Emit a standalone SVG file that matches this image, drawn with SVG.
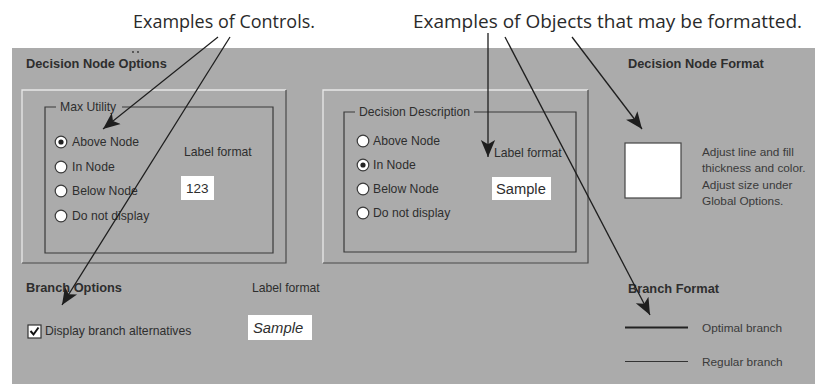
<svg xmlns="http://www.w3.org/2000/svg" width="815" height="384" viewBox="0 0 815 384">
<style>
.cap{font-family:"Open Sans","Noto Sans",sans-serif;font-size:18.5px;fill:#2a2a2a}
.hd{font-family:"Liberation Sans",Arial,sans-serif;font-size:12.8px;font-weight:bold;fill:#2e2e2e}
.t{font-family:"Liberation Sans",Arial,sans-serif;font-size:12.2px;fill:#2e2e2e}
.s{font-family:"Liberation Sans",Arial,sans-serif;font-size:11.8px;fill:#3a3a3a}
.rad{fill:#fff;stroke:#3a3a3a;stroke-width:1.2}
.grp{fill:none;stroke:#3a3a3a;stroke-width:1.2}
.wb{fill:#fff}
.ln{stroke:#1e1e1e;stroke-width:1.3;fill:none}
</style>
<defs>
<marker id="ah2" viewBox="0 0 10 10" refX="10" refY="5" markerWidth="17" markerHeight="17" markerUnits="userSpaceOnUse" orient="auto">
<path d="M0,0.8 L10,5 L0,9.2 L2.5,5 Z" fill="#1e1e1e"/>
</marker>
</defs>
<rect x="0" y="0" width="815" height="384" fill="#fff"/>
<rect x="12" y="48" width="803" height="336" fill="#ababab"/>
<circle cx="133" cy="52" r="0.9" fill="#333"/>
<circle cx="138" cy="52" r="0.9" fill="#333"/>
<g id="captions">
<text class="cap" x="133" y="28" textLength="182" lengthAdjust="spacingAndGlyphs">Examples of Controls.</text>
<text class="cap" x="413" y="28" textLength="389" lengthAdjust="spacingAndGlyphs">Examples of Objects that may be formatted.</text>
</g>
<g id="decision-node-options">
<text class="hd" x="26" y="68">Decision Node Options</text>
<path d="M22,263 V90 H286" stroke="#e8e8e8" stroke-width="1.3" fill="none"/>
<path d="M22,263 H286 V90" stroke="#4a4a4a" stroke-width="1.2" fill="none"/>
<path d="M56,107 H45 V253 H273 V107 H122" class="grp"/>
<text class="t" x="60" y="111">Max Utility</text>
<circle class="rad" cx="61" cy="142" r="5.8"/><circle cx="61" cy="142" r="2.6" fill="#222"/>
<text class="t" x="72" y="146">Above Node</text>
<circle class="rad" cx="61" cy="167" r="5.8"/>
<text class="t" x="72" y="171">In Node</text>
<circle class="rad" cx="61" cy="191" r="5.8"/>
<text class="t" x="72" y="195">Below Node</text>
<circle class="rad" cx="61" cy="216" r="5.8"/>
<text class="t" x="72" y="220">Do not display</text>
<text class="t" x="184" y="156">Label format</text>
<rect class="wb" x="181" y="176" width="33" height="24"/>
<text class="t" x="186" y="193" style="font-size:13.5px">123</text>
</g>
<g id="decision-description">
<path d="M323,263 V90 H588" stroke="#e8e8e8" stroke-width="1.3" fill="none"/>
<path d="M323,263 H588 V90" stroke="#4a4a4a" stroke-width="1.2" fill="none"/>
<path d="M355,112 H344 V252 H576 V112 H474" class="grp"/>
<text class="t" x="359" y="116">Decision Description</text>
<circle class="rad" cx="363" cy="141" r="5.8"/>
<text class="t" x="373" y="145">Above Node</text>
<circle class="rad" cx="363" cy="165" r="5.8"/><circle cx="363" cy="165" r="2.6" fill="#222"/>
<text class="t" x="373" y="169">In Node</text>
<circle class="rad" cx="363" cy="189" r="5.8"/>
<text class="t" x="373" y="193">Below Node</text>
<circle class="rad" cx="363" cy="213" r="5.8"/>
<text class="t" x="373" y="217">Do not display</text>
<text class="t" x="494" y="157">Label format</text>
<rect class="wb" x="492" y="177" width="59" height="23"/>
<text class="t" x="496" y="194" style="font-size:14.7px">Sample</text>
</g>
<g id="decision-node-format">
<text class="hd" x="628" y="68">Decision Node Format</text>
<rect x="625" y="143" width="56" height="55" fill="#fff" stroke="#444" stroke-width="1.2"/>
<text class="s" x="702" y="156">Adjust line and fill</text>
<text class="s" x="702" y="172">thickness and color.</text>
<text class="s" x="702" y="189">Adjust size under</text>
<text class="s" x="702" y="205">Global Options.</text>
</g>
<g id="branch-options">
<text class="hd" x="26" y="292">Branch Options</text>
<text class="t" x="252" y="292">Label format</text>
<rect x="28" y="325" width="13" height="13" fill="#fff" stroke="#333" stroke-width="1.2"/>
<path d="M30.5,331 L33.5,334.5 L38.5,327.5" stroke="#111" stroke-width="2" fill="none"/>
<text class="t" x="45" y="335">Display branch alternatives</text>
<rect class="wb" x="248" y="315" width="64" height="25"/>
<text class="t" x="253" y="333" style="font-size:14.8px;font-style:italic">Sample</text>
</g>
<g id="branch-format">
<text class="hd" x="628" y="293">Branch Format</text>
<line x1="625" y1="327.5" x2="688" y2="327.5" stroke="#222" stroke-width="2"/>
<text class="s" x="702" y="332">Optimal branch</text>
<line x1="625" y1="361.5" x2="688" y2="361.5" stroke="#333" stroke-width="1"/>
<text class="s" x="702" y="366">Regular branch</text>
</g>
<g id="connectors">
<line class="ln" x1="218" y1="37" x2="103" y2="129" marker-end="url(#ah2)"/>
<line class="ln" x1="230" y1="37" x2="62" y2="305" marker-end="url(#ah2)"/>
<line class="ln" x1="488" y1="33" x2="488" y2="157" marker-end="url(#ah2)"/>
<line class="ln" x1="505" y1="37" x2="650" y2="315" marker-end="url(#ah2)"/>
<line class="ln" x1="572" y1="37" x2="642" y2="129" marker-end="url(#ah2)"/>
</g>
</svg>
